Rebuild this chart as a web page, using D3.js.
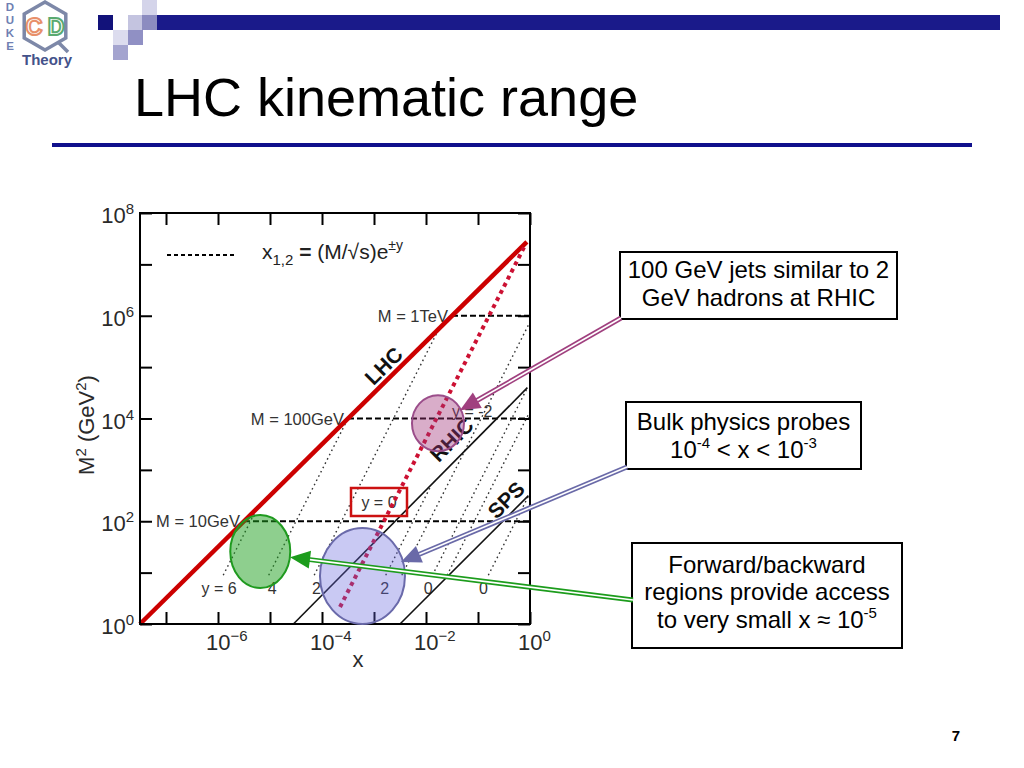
<!DOCTYPE html>
<html><head><meta charset="utf-8">
<script src="https://cdn.jsdelivr.net/npm/d3@7"></script>
<style>body{margin:0;background:#fff}svg{display:block}text{font-family:"Liberation Sans",Arial,sans-serif}</style>
</head><body><svg id="c" width="1024" height="768"></svg>
<script>
// ---------- data ----------
const xTickVals = [1e-7, 1e-6, 1e-5, 1e-4, 1e-3, 1e-2, 1e-1, 1];
const xLabelVals = [1e-6, 1e-4, 1e-2, 1];
const xLabelSup = ["\u22126", "\u22124", "\u22122", "0"];
const yTickVals = [1, 1e1, 1e2, 1e3, 1e4, 1e5, 1e6, 1e7, 1e8];
const yLabelVals = [1, 1e2, 1e4, 1e6, 1e8];
const yLabelSup = ["0", "2", "4", "6", "8"];

// collider kinematic limits (solid lines)
const beamNames = ["LHC", "RHIC", "SPS"];
const beamX1 = [3.16e-8, 2.82e-5, 3.16e-3];
const beamM1 = [1, 1, 1];
const beamX2 = [0.871, 0.891, 0.933];
const beamM2 = [2.75e7, 3.98e4, 316];
const beamLabelX = [1.55e-3, 0.0316, 0.35];
const beamLabelM = [1.05e5, 3.8e3, 257];

// LHC y = 0 line (thick red dotted)
const y0X = [2.22e-4, 0.767];
const y0M = [2.14, 2.14e7];

// constant-rapidity lines (thin dotted)
const rapX1 = [1.26e-6, 9.44e-6, 7.08e-5, 3.43e-3, 0.0254, 1.68e-3, 0.0133, 0.158];
const rapM1 = [8.91, 8.91, 8.91, 8.91, 8.91, 8.91, 8.91, 8.91];
const rapX2 = [5.62e-6, 3.16e-4, 0.0178, 1, 1, 0.0126, 0.891, 0.933];
const rapM2 = [178, 1e4, 5.62e5, 7.59e5, 1.38e4, 501, 3.98e4, 309];

// rapidity labels at the bottom
const rapLabelText = ["y = 6", "4", "2", "2", "0", "0"];
const rapLabelX = [1.05e-6, 1.1e-5, 7.8e-5, 1.6e-3, 1.1e-2, 0.127];

// constant mass lines (dashed)
const massText = ["M = 10GeV", "M = 100GeV", "M = 1TeV"];
const massVal = [1e2, 1e4, 1e6];
const massX1 = [3.16e-6, 3.16e-4, 3.16e-2];

// highlighted regions (centres in data units)
const regionX = [0.017, 6.5e-6, 6.0e-4];
const regionM = [8.1e3, 25.7, 8.6];
const regionFill = ["rgba(160,50,120,0.40)", "rgba(30,160,30,0.50)", "rgba(100,100,220,0.35)"];
const regionStroke = ["#9b4d8a", "#1f9a1f", "#6a6aaa"];

// annotation boxes
const noteLines = [
  ["100 GeV jets similar to 2", "GeV hadrons at RHIC"],
  ["Bulk physics probes", "10^-4 < x < 10^-3"],
  ["Forward/backward", "regions provide access", "to very small x \u2248 10^-5"]
];
const arrowTipX = [0.045, 3.3e-3, 2.43e-5];
const arrowTipM = [1.45e4, 16.1, 20];
const arrowColor = ["#a0407f", "#6a6aa8", "#1c9c1c"];

// ---------- drawing ----------
const svg = d3.select("#c");
const L = 140, R = 530, T = 213, B = 624;
const x = d3.scaleLog().domain([Math.pow(10, -7.5), 1]).range([L, R]);
const y = d3.scaleLog().domain([1, 1e8]).range([B, T]);

// ---- header: logo ----
const logo = svg.append("g");
["D", "U", "K", "E"].forEach((c, i) => {
  logo.append("text").attr("x", 10).attr("y", 11 + i * 13).attr("text-anchor", "middle")
    .attr("font-size", 11.5).attr("font-weight", "bold").attr("fill", "#6f7fb2").text(c);
});
const hex = d3.range(6).map(i => {
  const a = Math.PI / 6 + i * Math.PI / 3;
  return [45 + 24 * Math.cos(a), 26 + 24 * Math.sin(a)];
});
logo.append("polygon").attr("points", hex.map(p => p.join(",")).join(" "))
  .attr("fill", "none").attr("stroke", "#7d88a8").attr("stroke-width", 3.5);
logo.append("path").attr("d", "M58,42 L68,52").attr("stroke", "#7d88a8").attr("stroke-width", 3.5);
logo.append("text").attr("x", 34).attr("y", 35).attr("text-anchor", "middle").attr("font-size", 23)
  .attr("font-weight", "bold").attr("fill", "none").attr("stroke", "#e8906a").attr("stroke-width", 2).text("C");
logo.append("text").attr("x", 56).attr("y", 35).attr("text-anchor", "middle").attr("font-size", 23)
  .attr("font-weight", "bold").attr("fill", "none").attr("stroke", "#5aaa70").attr("stroke-width", 2).text("D");
logo.append("text").attr("x", 47).attr("y", 65).attr("text-anchor", "middle").attr("font-size", 15)
  .attr("font-weight", "bold").attr("fill", "#44528a").text("Theory");

// ---- header: squares and bar ----
const deco = svg.append("g");
const squares = [
  [98, 15, "#12127a"], [113, 30, "#dcdcee"], [142, 0, "#d4d4ea"], [128, 15, "#c4c4e0"],
  [128, 30, "#9090c4"], [113, 45, "#a4a4cf"], [142, 15, "#8c8cc0"]
];
squares.forEach(s => deco.append("rect").attr("x", s[0]).attr("y", s[1]).attr("width", 15).attr("height", 15).attr("fill", s[2]));
deco.append("rect").attr("x", 157).attr("y", 15).attr("width", 843).attr("height", 15).attr("fill", "#1a1a8a");

// ---- title ----
svg.append("text").attr("x", 134).attr("y", 116).attr("font-size", 54).attr("fill", "#000").text("LHC kinematic range");
svg.append("rect").attr("x", 52).attr("y", 143).attr("width", 920).attr("height", 4).attr("fill", "#10108c");

// ---- plot ----
const plot = svg.append("g");

function styleAxis(g) { g.select(".domain").remove(); g.selectAll("line").attr("stroke", "#000").attr("stroke-width", 2); g.selectAll("text").remove(); }
plot.append("g").attr("transform", `translate(0,${B})`).call(d3.axisBottom(x).tickValues(xTickVals).tickSize(-12).tickFormat("")).call(styleAxis);
plot.append("g").attr("transform", `translate(0,${T})`).call(d3.axisTop(x).tickValues(xTickVals).tickSize(-12).tickFormat("")).call(styleAxis);
plot.append("g").attr("transform", `translate(${L},0)`).call(d3.axisLeft(y).tickValues(yTickVals).tickSize(-12).tickFormat("")).call(styleAxis);
plot.append("g").attr("transform", `translate(${R},0)`).call(d3.axisRight(y).tickValues(yTickVals).tickSize(-12).tickFormat("")).call(styleAxis);

xLabelVals.forEach((v, i) => {
  const t = plot.append("text").attr("x", x(v) - 12).attr("y", 650).attr("font-size", 22).attr("fill", "#2a2a2a");
  t.append("tspan").text("10");
  t.append("tspan").attr("dy", -9).attr("font-size", 15).text(xLabelSup[i]);
});
yLabelVals.forEach((v, i) => {
  const t = plot.append("text").attr("x", 134).attr("y", y(v) + 10).attr("text-anchor", "end").attr("font-size", 22).attr("fill", "#2a2a2a");
  t.append("tspan").text("10");
  t.append("tspan").attr("dy", -9).attr("font-size", 15).text(yLabelSup[i]);
});
plot.append("text").attr("x", 358).attr("y", 667).attr("text-anchor", "middle").attr("font-size", 22).attr("fill", "#2a2a2a").text("x");
const yt = plot.append("text").attr("transform", "translate(94,425) rotate(-90)").attr("text-anchor", "middle").attr("font-size", 22).attr("fill", "#2a2a2a");
yt.append("tspan").text("M");
yt.append("tspan").attr("dy", -8).attr("font-size", 15).text("2");
yt.append("tspan").attr("dy", 8).text("  (GeV");
yt.append("tspan").attr("dy", -8).attr("font-size", 15).text("2");
yt.append("tspan").attr("dy", 8).text(")");

// legend
plot.append("line").attr("x1", 167).attr("x2", 237).attr("y1", 255).attr("y2", 255)
  .attr("stroke", "#000").attr("stroke-width", 2).attr("stroke-dasharray", "4,3");
const lg = plot.append("text").attr("x", 262).attr("y", 259).attr("font-size", 21).attr("fill", "#222");
lg.append("tspan").text("x");
lg.append("tspan").attr("dy", 6).attr("font-size", 15).text("1,2");
lg.append("tspan").attr("dy", -6).text(" ");
lg.append("tspan").attr("font-weight", "bold").text("=");
lg.append("tspan").text(" (M/\u221As)e");
lg.append("tspan").attr("dy", -9).attr("font-size", 14).text("\u00B1y");

const line = d3.line().x(d => x(d[0])).y(d => y(d[1]));

rapX1.forEach((v, i) => {
  plot.append("path").attr("d", line([[rapX1[i], rapM1[i]], [rapX2[i], rapM2[i]]]))
    .attr("stroke", "#333").attr("stroke-width", 1.4).attr("stroke-dasharray", "1.6,3.2").attr("fill", "none");
});

rapLabelText.forEach((s, i) => {
  plot.append("text").attr("x", x(rapLabelX[i])).attr("y", 594).attr("text-anchor", "middle")
    .attr("font-size", 16).attr("fill", "#333").text(s);
});
plot.append("text").attr("x", 452).attr("y", 417).attr("font-size", 16).attr("fill", "#333").text("y = -2");

massVal.forEach((m, i) => {
  plot.append("line").attr("x1", x(massX1[i])).attr("x2", R).attr("y1", y(m)).attr("y2", y(m))
    .attr("stroke", "#000").attr("stroke-width", 2).attr("stroke-dasharray", "6,3");
  plot.append("text").attr("x", x(massX1[i]) - 4).attr("y", y(m) + 6).attr("text-anchor", "end")
    .attr("font-size", 16.5).attr("fill", "#333").text(massText[i]);
});

beamNames.forEach((n, i) => {
  plot.append("path").attr("d", line([[beamX1[i], beamM1[i]], [beamX2[i], beamM2[i]]]))
    .attr("stroke", i === 0 ? "#cc0000" : "#111").attr("stroke-width", i === 0 ? 4.5 : 1.6).attr("fill", "none");
  plot.append("text").attr("transform", `translate(${x(beamLabelX[i])},${y(beamLabelM[i])}) rotate(-45)`)
    .attr("text-anchor", "middle").attr("dy", 7).attr("font-size", 21).attr("font-weight", "bold").attr("fill", "#111").text(n);
});

plot.append("rect").attr("x", 351).attr("y", 488).attr("width", 56).attr("height", 28)
  .attr("fill", "none").attr("stroke", "#cc1111").attr("stroke-width", 2.5);
plot.append("text").attr("x", 379).attr("y", 508).attr("text-anchor", "middle").attr("font-size", 16).attr("fill", "#333").text("y = 0");

plot.append("path").attr("d", line([[y0X[0], y0M[0]], [y0X[1], y0M[1]]]))
  .attr("stroke", "#cc1133").attr("stroke-width", 4).attr("stroke-dasharray", "4,4").attr("fill", "none");

plot.append("rect").attr("x", L).attr("y", T).attr("width", R - L).attr("height", B - T)
  .attr("fill", "none").attr("stroke", "#000").attr("stroke-width", 2);

const regionR = [[26, 28], [30, 36.5], [42.5, 48]];
regionX.forEach((v, i) => {
  plot.append("ellipse").attr("cx", x(v)).attr("cy", y(regionM[i])).attr("rx", regionR[i][0]).attr("ry", regionR[i][1])
    .attr("fill", regionFill[i]).attr("stroke", regionStroke[i]).attr("stroke-width", 2);
});

// annotation boxes
const boxes = [[620, 252, 277, 67], [626, 402, 235, 67], [632, 543, 270, 105]];
const lineY = [[278, 306], [430, 458], [573, 600, 628]];
const arrowStart = [[621, 318], [627, 467], [633, 600]];
boxes.forEach((b, i) => {
  svg.append("rect").attr("x", b[0]).attr("y", b[1]).attr("width", b[2]).attr("height", b[3])
    .attr("fill", "#fff").attr("stroke", "#000").attr("stroke-width", 2);
  noteLines[i].forEach((s, j) => {
    const t = svg.append("text").attr("x", b[0] + b[2] / 2).attr("y", lineY[i][j]).attr("text-anchor", "middle")
      .attr("font-size", 24).attr("fill", "#000");
    const parts = s.split(/(\^-?\d)/).filter(p => p.length);
    let back = 0;
    parts.forEach(p => {
      if (p.startsWith("^")) {
        t.append("tspan").attr("dy", -10 - back).attr("font-size", 15).text(p.slice(1));
        back = -10;
      } else {
        t.append("tspan").attr("dy", -back).text(p);
        back = 0;
      }
    });
  });
});

arrowTipX.forEach((v, i) => {
  const tx = x(v), ty = y(arrowTipM[i]);
  const [sx, sy] = arrowStart[i];
  const dx = tx - sx, dy = ty - sy, len = Math.hypot(dx, dy);
  const ux = dx / len, uy = dy / len;
  const hl = 20, hw = 9;
  const bx = tx - ux * hl, by = ty - uy * hl;
  svg.append("line").attr("x1", sx).attr("y1", sy).attr("x2", bx + ux * 2).attr("y2", by + uy * 2)
    .attr("stroke", arrowColor[i]).attr("stroke-width", 5);
  svg.append("line").attr("x1", sx).attr("y1", sy).attr("x2", bx + ux * 2).attr("y2", by + uy * 2)
    .attr("stroke", "#fff").attr("stroke-width", 1.6);
  svg.append("polygon").attr("points", [[tx, ty], [bx - uy * hw, by + ux * hw], [bx + uy * hw, by - ux * hw]].map(p => p.join(",")).join(" "))
    .attr("fill", arrowColor[i]);
});

svg.append("text").attr("x", 956).attr("y", 741).attr("text-anchor", "middle").attr("font-size", 15)
  .attr("font-weight", "bold").attr("fill", "#000").text("7");
</script></body></html>
